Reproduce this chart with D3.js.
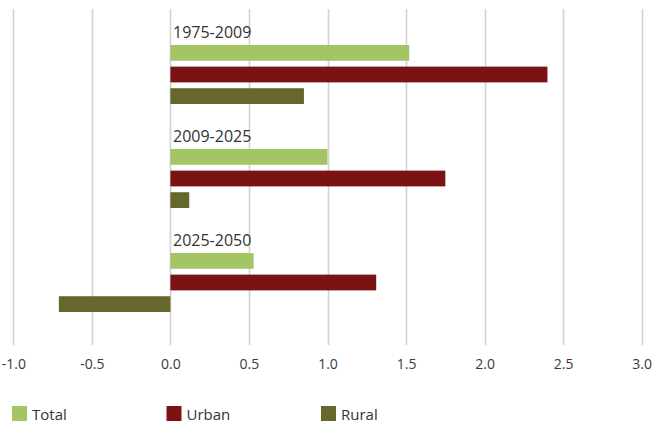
<!DOCTYPE html>
<html>
<head>
<meta charset="utf-8">
<script src="https://cdn.jsdelivr.net/npm/d3@7"></script>
<style>
  html, body { margin: 0; padding: 0; background: #fff; }
  svg { display: block; font-family: "Open Sans", sans-serif; }
</style>
</head>
<body>
<svg id="chart" width="653" height="426"></svg>
<script>
// ---- Data ----
const periods = ["1975-2009", "2009-2025", "2025-2050"];
const series = ["Total", "Urban", "Rural"];
const totalValues = [1.52, 1.0, 0.53];
const urbanValues = [2.4, 1.75, 1.31];
const ruralValues = [0.85, 0.12, -0.71];
const tickValues = [-1.0, -0.5, 0.0, 0.5, 1.0, 1.5, 2.0, 2.5, 3.0];
const tickLabels = ["-1.0", "-0.5", "0.0", "0.5", "1.0", "1.5", "2.0", "2.5", "3.0"];
const colors = ["#a3c564", "#7b1315", "#66672b"];

const valuesBySeries = { Total: totalValues, Urban: urbanValues, Rural: ruralValues };

const svg = d3.select("#chart");

const x = d3.scaleLinear().domain([-1, 3]).range([13.3, 641.7]);
const yGroup = d3.scaleBand().domain(periods).range([24, 336]).paddingInner(0).paddingOuter(0);
const ySub = d3.scaleBand().domain(series).range([21, 80]).paddingInner(0.27).paddingOuter(0);
const color = d3.scaleOrdinal().domain(series).range(colors);

// gridlines
svg.append("g").selectAll("line")
  .data(tickValues).join("line")
  .attr("x1", d => Math.round(x(d)) + 0.5).attr("x2", d => Math.round(x(d)) + 0.5)
  .attr("y1", 9).attr("y2", 345)
  .attr("stroke", "#d2d2d2").attr("stroke-width", 1.6);

// axis tick labels
const axis = d3.axisBottom(x).tickValues(tickValues)
  .tickFormat((d, i) => tickLabels[i]).tickSize(0).tickPadding(0);
const ax = svg.append("g").attr("transform", "translate(0,356)").call(axis);
ax.select(".domain").remove();
ax.selectAll("text").attr("fill", "#3a3a3a").attr("font-size", 14)
  .attr("font-family", "'Open Sans', sans-serif").attr("dy", "0.9em");

// groups
const groups = svg.append("g").selectAll("g")
  .data(periods).join("g")
  .attr("transform", d => `translate(0,${yGroup(d)})`);

groups.append("text")
  .attr("x", 173).attr("y", 14)
  .attr("font-size", 16).attr("fill", "#333")
  .text(d => d);

groups.each(function(p, i) {
  d3.select(this).selectAll("rect")
    .data(series.map(s => ({ s, v: valuesBySeries[s][i] })))
    .join("rect")
    .attr("x", d => Math.min(x(0), x(d.v)))
    .attr("width", d => Math.abs(x(d.v) - x(0)))
    .attr("y", d => ySub(d.s))
    .attr("height", ySub.bandwidth())
    .attr("fill", d => color(d.s));
});

// legend
const legendX = d3.scalePoint().domain(series).range([12, 321]);
const leg = svg.append("g").selectAll("g")
  .data(series).join("g")
  .attr("transform", d => `translate(${legendX(d)},406)`);
leg.append("rect").attr("width", 15).attr("height", 15).attr("fill", d => color(d));
leg.append("text").attr("x", 20).attr("y", 14).attr("font-size", 15)
  .attr("fill", "#333").text(d => d);
</script>
</body>
</html>
